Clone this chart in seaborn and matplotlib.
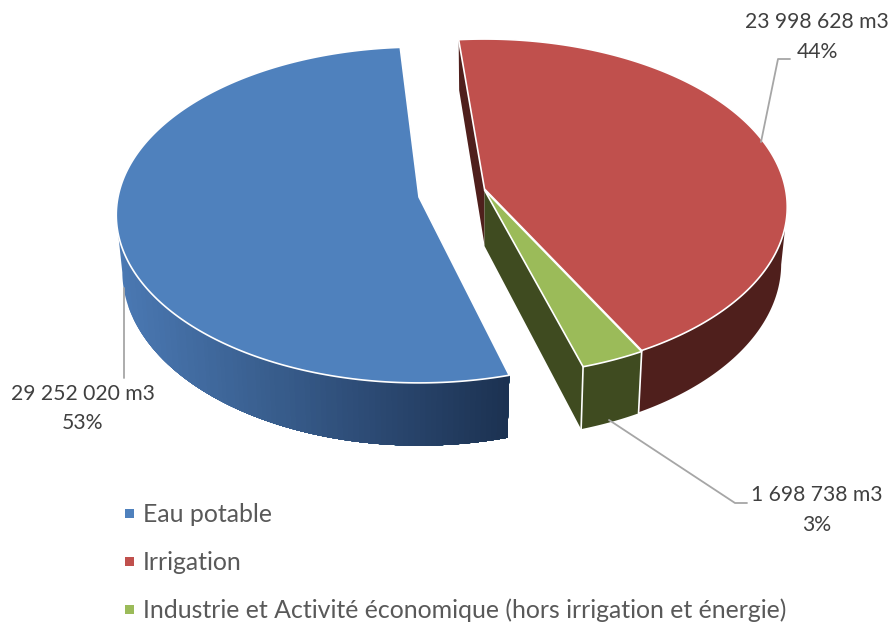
import matplotlib
matplotlib.use("Agg")
import matplotlib.pyplot as plt
import numpy as np
import seaborn as sns
from matplotlib.patches import Polygon

categories = ["Eau potable", "Irrigation", "Industrie et Activité économique (hors irrigation et énergie)"]
volumes = [29252020, 23998628, 1698738]
top_colors = ["#4f81bd", "#c0504d", "#9bbb59"]
wall_colors = ["#4a78b2", "#4f1f1c", "#3f4b20"]

# layout of the fake 3D pie, in pixels
APEX = [(419, 197), (484.5, 189), (484.5, 190)]
RX, RY, PERSP = 301, 166, 0.107
DEPTH, SHRINK = 56, 0.98
START = 164.4  # clockwise from the back of the pie, first slice
NUDGE = [0, -1.5, -1.5]  # perspective skews the right hand slices a bit
LABEL_POS = [((83, 394), (83, 423)), ((817, 22), (817, 52)), ((817, 495), (817, 525))]
LEADERS = [[(123.5, 288), (123.5, 378)],
           [(761, 142), (778, 59), (790, 59)],
           [(609, 420), (735, 503), (747, 503)]]
LEGEND_Y = [513.5, 561.5, 609.5]


def project(angle_deg, cx, cy, lower=False):
    # angle clockwise from the back of the disc, with a small perspective
    a = np.radians(angle_deg)
    u, v = np.sin(a), -np.cos(a)
    w = 1 - PERSP * v
    x, y = RX * u / w, RY * v / w
    if lower:
        return cx + SHRINK * x, cy + y + DEPTH / w
    return cx + x, cy + y


def fmt_volume(v):
    return f"{v:,}".replace(",", " ") + " m3"


def wall_outline(angles, apex):
    upper = [project(a, *apex) for a in angles]
    lower = [project(a, *apex, lower=True) for a in angles[::-1]]
    return upper + lower


sns.set_theme(style="white")
plt.rcParams["font.family"] = ["Lato", "DejaVu Sans"]

fig = plt.figure(figsize=(8.93, 6.26), dpi=100)
ax = fig.add_axes([0, 0, 1, 1])
ax.set_xlim(0, 893)
ax.set_ylim(626, 0)
ax.axis("off")

total = sum(volumes)
sweeps = [v / total * 360 for v in volumes]
starts = [START + sum(sweeps[:i]) + NUDGE[i] for i in range(3)]
arcs = [np.linspace(s, s + w, 200) for s, w in zip(starts, sweeps)]

# only the front part of a rim has a visible wall, up to the widest point
rim_x = [np.array([project(a, *APEX[i])[0] for a in arcs[i]]) for i in range(3)]
front = [arcs[0][:np.argmin(rim_x[0]) + 1][::-1], arcs[1][np.argmax(rim_x[1]):], arcs[2]]

# blue wall: left to right gradient, each band painted over the rest of the wall
n_bands = 70
blue_shades = sns.blend_palette([wall_colors[0], "#1c3252"], n_bands)
front_x = np.array([project(a, *APEX[0])[0] for a in front[0]])
band_edges = np.linspace(front_x[0], front_x[-1], n_bands, endpoint=False)
for shade, edge in zip(blue_shades, band_edges):
    part = front[0][np.argmax(front_x >= edge):]
    ax.add_patch(Polygon(wall_outline(part, APEX[0]), closed=True, facecolor=shade,
                         edgecolor="none", zorder=2))

for i in (1, 2):
    ax.add_patch(Polygon(wall_outline(front[i], APEX[i]), closed=True, facecolor=wall_colors[i],
                         edgecolor="none", zorder=2))

# cut faces of irrigation (start side) and industrie (end side)
red_edge = project(starts[1], *APEX[1])
red_low = project(starts[1], *APEX[1], lower=True)
ax.add_patch(Polygon([APEX[1], red_edge, red_low, (APEX[1][0], APEX[1][1] + DEPTH)],
                     closed=True, facecolor=wall_colors[1], edgecolor="none", zorder=2))
green_end = starts[2] + sweeps[2] - 360
green_edge = project(green_end, *APEX[2])
green_low = project(green_end, *APEX[2], lower=True)
ax.add_patch(Polygon([APEX[2], green_edge, green_low, (APEX[2][0], APEX[2][1] + DEPTH)],
                     closed=True, facecolor=wall_colors[2], edgecolor="none", zorder=3))

# white verticals between the walls
for angle, apex in [(green_end, APEX[2]), (starts[2], APEX[2])]:
    p0, p1 = project(angle, *apex), project(angle, *apex, lower=True)
    ax.plot([p0[0], p1[0]], [p0[1], p1[1]], color="white", lw=1.2, zorder=4)

# top faces
for i in range(3):
    rim = [project(a, *APEX[i]) for a in arcs[i]]
    ax.add_patch(Polygon([APEX[i]] + rim, closed=True, facecolor=top_colors[i],
                         edgecolor="white", lw=1.2, joinstyle="round", zorder=5))

# leader lines and data labels
for line in LEADERS:
    xs, ys = zip(*line)
    ax.plot(xs, ys, color="#a6a6a6", lw=1.3, zorder=6)
for v, (p1, p2) in zip(volumes, LABEL_POS):
    ax.text(p1[0], p1[1], fmt_volume(v), ha="center", va="center", fontsize=15.2, color="#404040")
    ax.text(p2[0], p2[1], f"{v / total * 100:.0f}%", ha="center", va="center", fontsize=15.2, color="#404040")

# legend
sns.scatterplot(x=[129.5] * 3, y=LEGEND_Y, hue=categories, palette=top_colors, marker="s",
                s=44, linewidth=0, legend=False, ax=ax, zorder=6)
for name, y in zip(categories, LEGEND_Y):
    ax.text(143, y + 0.5, name, ha="left", va="center", fontsize=17.9, color="#595959")

fig.savefig("out.png", dpi=100)
